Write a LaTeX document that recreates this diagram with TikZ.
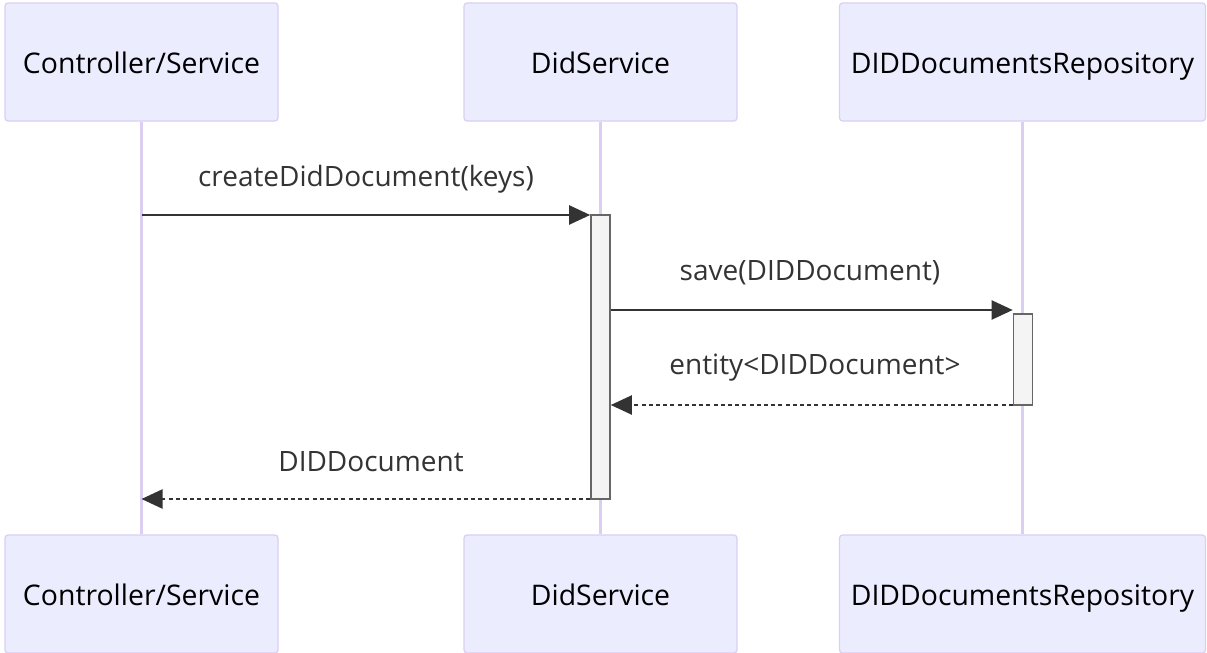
\documentclass[tikz,border=0pt]{standalone}
\usepackage{fontspec}
\setmainfont{Open Sans}
\usetikzlibrary{arrows.meta}
\definecolor{actorfill}{HTML}{ECECFF}
\definecolor{actorline}{HTML}{DACEF3}
\definecolor{actfill}{HTML}{F4F4F4}
\definecolor{actline}{HTML}{666666}
\definecolor{msgcol}{HTML}{333333}
\tikzset{
  actor/.style={
    rectangle,
    rounded corners=1.5pt,
    draw=actorline,
    fill=actorfill,
    line width=0.6pt,
    minimum height=59pt,
    inner sep=0pt,
    text height=14pt,
    text depth=2.5pt,
    font=\fontsize{14.2}{16}\selectfont
  },
  lifeline/.style={draw=actorline,line width=1.1pt},
  activation/.style={
    rectangle,
    draw=actline,
    fill=actfill,
    line width=0.8pt,
    minimum width=9.5pt,
    inner sep=0pt
  },
  msg/.style={-{Triangle[length=10.5pt,width=9.5pt]},line width=1.1pt,draw=msgcol},
  reply/.style={msg,dash pattern=on 2pt off 1.6pt},
  msglabel/.style={font=\fontsize{14}{16}\selectfont,text=msgcol}
}
\begin{document}
\begin{tikzpicture}[x=0.5pt,y=-0.5pt]
  \useasboundingbox (0,0) rectangle (1207,653);

  % Participants, top and bottom.
  \node[actor,minimum width=136.5pt] (ctrl) at (141.5,62) {Controller/Service};
  \node[actor,minimum width=136.5pt] (did) at (600.5,62) {DidService};
  \node[actor,minimum width=183pt] (repo) at (1022.5,62) {DIDDocumentsRepository};
  \node[actor,minimum width=136.5pt] (ctrlb) at (141.5,594) {Controller/Service};
  \node[actor,minimum width=136.5pt] (didb) at (600.5,594) {DidService};
  \node[actor,minimum width=183pt] (repob) at (1022.5,594) {DIDDocumentsRepository};

  % Lifelines.
  \draw[lifeline] (ctrl) -- (ctrlb);
  \draw[lifeline] (did) -- (didb);
  \draw[lifeline] (repo) -- (repob);

  % Activations.
  \node[activation,minimum height=142pt] (actdid) at (600.5,357) {};
  \node[activation,minimum height=45.5pt] (actrepo) at (1023,359.5) {};

  % Messages.
  \coordinate (m1) at (0,215);
  \coordinate (m2) at (0,310);
  \coordinate (m3) at (0,405);
  \coordinate (m4) at (0,499);

  \draw[msg] (ctrl |- m1) -- (actdid.west |- m1);
  \node[msglabel] (l1) at (366,179) {createDidDocument(keys)};

  \draw[msg] (actdid.east |- m2) -- (actrepo.west |- m2);
  \node[msglabel] (l2) at (810,273) {save(DIDDocument)};

  \draw[reply] (actrepo.west |- m3) -- (actdid.east |- m3);
  \node[msglabel] (l3) at (815,368) {entity<DIDDocument>};

  \draw[reply] (actdid.west |- m4) -- (ctrl |- m4);
  \node[msglabel] (l4) at (371,462) {DIDDocument};
\end{tikzpicture}
\end{document}
